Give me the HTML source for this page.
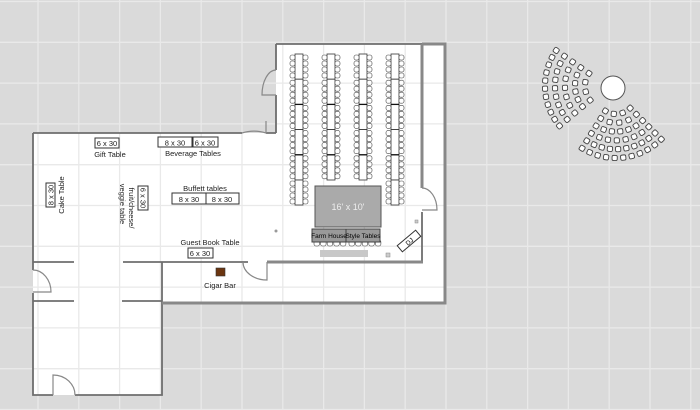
<!DOCTYPE html>
<html><head><meta charset="utf-8"><style>
html,body{margin:0;padding:0;background:#dadada;}
svg{display:block;font-family:"Liberation Sans",sans-serif;}
</style></head><body>
<svg id="s" width="700" height="410" viewBox="0 0 700 410" xmlns="http://www.w3.org/2000/svg">
<rect width="700" height="410" fill="#dadada"/>
<path d="M33,133 H276 V44 H445 V303 H162 V395 H33 Z" fill="#fff"/>
<g id="grid" stroke="#e9e9e9" stroke-width="1.3"></g>
<g fill="none" stroke="#6e6e6e" stroke-width="1.8">
<path d="M276,44 H422"/>
<path d="M276,44 V70 M276,95 V133 M33,133 H242 M266,133 H276"/>
<path d="M33,133 V270 M33,293 V395 H53 M75,395 H162 V262"/>
<path d="M33,262 H74 M123,262 H248 M33,301 H74 M122,301 H162"/>
<path d="M422,212 V262"/>
</g>
<g fill="none" stroke="#888" stroke-width="3">
<path d="M422,44 H445 V303 H162"/>
<path d="M422,44 V188"/>
<path d="M267,262 H423"/>
</g>
<g fill="none" stroke="#888" stroke-width="1.2">
<path d="M276,70 A14,25 0 0 0 262,95 L276,95"/>
<path d="M242,133 A24,14 0 0 1 266,133 V121"/>
<path d="M422,188 A15,22 0 0 1 437,210 L422,210"/>
<path d="M243,262 A24,18 0 0 0 267,280 V262"/>
<path d="M33,270 A18,22 0 0 1 51,292 L33,292"/>
<path d="M53,395 V375 A22,20 0 0 1 75,395"/>
</g>
<g id="tables"></g>
<rect x="315" y="186" width="66" height="41" fill="#aaa" stroke="#555" stroke-width="1"/>
<text x="348" y="210" font-size="9" fill="#eee" text-anchor="middle">16' x 10'</text>
<g id="farm"></g>
<rect x="312" y="229" width="34" height="13" fill="#999" stroke="#444" stroke-width="1"/>
<rect x="346" y="229" width="34" height="13" fill="#999" stroke="#444" stroke-width="1"/>
<text x="329" y="238" font-size="6.5" text-anchor="middle">Farm House</text>
<text x="363" y="238" font-size="6.5" text-anchor="middle">Style Tables</text>
<rect x="320" y="250" width="48" height="7" fill="#c8c8c8"/>
<g transform="translate(409,241) rotate(-40)"><rect x="-12" y="-4" width="24" height="8" fill="#fff" stroke="#333" stroke-width="1"/><text x="0" y="3" font-size="6.5" text-anchor="middle">DJ</text></g>
<rect x="386" y="253" width="4" height="4" fill="#ccc" stroke="#888" stroke-width=".5"/>
<rect x="415" y="220" width="3" height="3" fill="#ccc" stroke="#888" stroke-width=".5"/>
<circle cx="276" cy="231" r="1.5" fill="#999"/>
<g fill="#fff" stroke="#333" stroke-width="1">
<rect x="95" y="138" width="24" height="10"/>
<rect x="158" y="137" width="34" height="10"/>
<rect x="193" y="137" width="25" height="10"/>
<rect x="172" y="193" width="34" height="11"/>
<rect x="206" y="193" width="33" height="11"/>
<rect x="188" y="248" width="25" height="10"/>
<rect x="46" y="183" width="9" height="24"/>
<rect x="138" y="186" width="10" height="24"/>
</g>
<g font-size="7.5" fill="#222" text-anchor="middle">
<text x="107" y="146">6 x 30</text>
<text x="110" y="157">Gift Table</text>
<text x="175" y="145.5">8 x 30</text>
<text x="205" y="145.5">6 x 30</text>
<text x="193" y="156">Beverage Tables</text>
<text x="205" y="191">Buffett tables</text>
<text x="189" y="202">8 x 30</text>
<text x="222" y="202">8 x 30</text>
<text x="210" y="245">Guest Book Table</text>
<text x="200" y="256">6 x 30</text>
<text x="220" y="288">Cigar Bar</text>
<text transform="translate(53.5,195) rotate(-90)">8 x 30</text>
<text transform="translate(64,195) rotate(-90)">Cake Table</text>
<text transform="translate(140.5,198) rotate(90)">6 x 30</text>
<text transform="translate(129,208) rotate(90)">fruit/cheese/</text>
<text transform="translate(120,204) rotate(90)">veggie table</text>
</g>
<rect x="216" y="268" width="9" height="8" fill="#6b3510" stroke="#333" stroke-width=".6"/>
<circle cx="613" cy="88" r="12" fill="#fff" stroke="#555" stroke-width="1"/>
<g id="fans" fill="#fff" stroke="#444" stroke-width="0.9"></g>
</svg>
<script>
var NS="http://www.w3.org/2000/svg";
function el(p,t,a){var e=document.createElementNS(NS,t);for(var k in a)e.setAttribute(k,a[k]);document.getElementById(p).appendChild(e);return e;}
for(var x=38;x<700;x+=40.8)el("grid","line",{x1:x,y1:0,x2:x,y2:410});
for(var y=1.5;y<410;y+=40.8)el("grid","line",{x1:0,y1:y,x2:700,y2:y});
var cols=[[299,205],[331,183],[363,183],[395,205]];
cols.forEach(function(c){
 var cx=c[0],end=c[1],y0=54,seg=25.2;
 for(var i=0;i<6;i++){var ty=y0+i*seg;if(ty+8>end)break;var h=Math.min(seg,end-ty);
  el("tables","rect",{x:cx-4,y:ty,width:8,height:h,fill:"#fff",stroke:"#333","stroke-width":0.8});
  for(var j=0;j<4;j++){var cy=ty+3.5+j*6;if(cy>ty+h-1)break;
   el("tables","rect",{x:cx-9,y:cy-2.5,width:5,height:5,rx:2,fill:"#fff",stroke:"#444","stroke-width":0.6});
   el("tables","rect",{x:cx+4,y:cy-2.5,width:5,height:5,rx:2,fill:"#fff",stroke:"#444","stroke-width":0.6});}
  if(i>0&&i%2==0)el("tables","line",{x1:cx-4,y1:ty,x2:cx+4,y2:ty,stroke:"#111","stroke-width":1.3});
 }});
for(var i=0;i<10;i++){var x=314+i*6.6+(i>=5?2:0);el("farm","rect",{x:x,y:240,width:5.5,height:6,rx:2,fill:"#fff",stroke:"#444","stroke-width":0.6});}
function fan(cx,cy,r0,r1,rows,a0,a1){
 for(var r=0;r<rows;r++){var rad=r0+(r1-r0)*r/(rows-1);var len=rad*(a1-a0)*Math.PI/180;var n=Math.max(2,Math.round(len/7.5));
  for(var k=0;k<n;k++){var a=(a0+(a1-a0)*k/(n-1))*Math.PI/180;var x=cx+rad*Math.cos(a),y=cy+rad*Math.sin(a);
   el("fans","rect",{x:x-2.6,y:y-2.6,width:5.2,height:5.2,rx:1.5,transform:"rotate("+(a*180/Math.PI)+" "+x+" "+y+")"});}}}
fan(607,86,22,62,5,140,215);
fan(616,94,20,64,6,45,122);
</script>
</body></html>
